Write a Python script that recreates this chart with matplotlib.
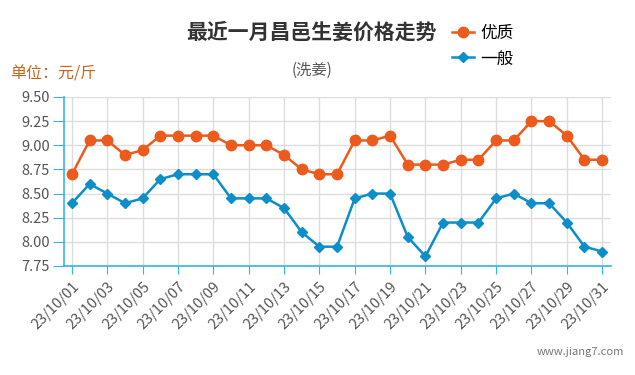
import matplotlib
matplotlib.use("Agg")
import matplotlib.pyplot as plt
import numpy as np

plt.rcParams['font.family'] = ['Noto Sans CJK SC', 'DejaVu Sans']

dates = [f"23/10/{d:02d}" for d in range(1, 32)]
premium = [8.70, 9.05, 9.05, 8.90, 8.95, 9.10, 9.10, 9.10, 9.10, 9.00, 9.00, 9.00, 8.90, 8.75, 8.70, 8.70,
           9.05, 9.05, 9.10, 8.80, 8.80, 8.80, 8.85, 8.85, 9.05, 9.05, 9.25, 9.25, 9.10, 8.85, 8.85]
normal = [8.40, 8.60, 8.50, 8.40, 8.45, 8.65, 8.70, 8.70, 8.70, 8.45, 8.45, 8.45, 8.35, 8.10, 7.95, 7.95,
          8.45, 8.50, 8.50, 8.05, 7.85, 8.20, 8.20, 8.20, 8.45, 8.50, 8.40, 8.40, 8.20, 7.95, 7.90]
y_ticks = [7.75, 8.00, 8.25, 8.50, 8.75, 9.00, 9.25, 9.50]

ORANGE = "#ec5a1c"
BLUE = "#0c8ec8"
AXIS = "#33b5e5"

fig = plt.figure(figsize=(6.35, 3.75), dpi=100)
ax = fig.add_axes([64/635, 1 - 266/375, (611 - 64)/635, (266 - 97)/375])

x = np.arange(len(dates))
ax.plot(x, premium, color=ORANGE, lw=1.8, marker="o", ms=7.5, label="优质", zorder=3)
ax.plot(x, normal, color=BLUE, lw=1.8, marker="D", ms=5.5, label="一般", zorder=3)

ax.set_xlim(-0.45, 30.5)
ax.set_ylim(7.75, 9.5)
ax.set_yticks(y_ticks)
ax.set_yticklabels([f"{v:.2f}" for v in y_ticks], fontsize=10.5, color="#555555")
ax.set_xticks(x[::2])
ax.set_xticklabels(dates[::2], rotation=45, ha="right", rotation_mode="anchor",
                   fontsize=10.5, color="#555555")
ax.tick_params(axis="x", length=6, color=AXIS, pad=4)
ax.tick_params(axis="y", length=8, color=AXIS, pad=2)
ax.grid(True, color="#dddddd", lw=1)
ax.set_axisbelow(True)
for side in ["top", "right"]:
    ax.spines[side].set_visible(False)
for side in ["left", "bottom"]:
    ax.spines[side].set_color(AXIS)
    ax.spines[side].set_linewidth(1.2)

fig.text(311/635, 1 - 32/375, "最近一月昌邑生姜价格走势", ha="center", va="center",
         fontsize=15, fontweight="bold", color="#333333")
fig.text(312/635, 1 - 70/375, "(洗姜)", ha="center", va="center", fontsize=11, color="#555555")
fig.text(10/635, 1 - 74/375, "单位：元/斤", ha="left", va="center", fontsize=11.5, color="#c8641e")
fig.text(624/635, 1 - 352/375, "www.jiang7.com", ha="right", va="center", fontsize=8, color="#777777")

leg = fig.legend(loc="upper left", bbox_to_anchor=(452/635, 1 - 25/375), frameon=False,
                 fontsize=12, handlelength=1.3, handletextpad=0.4, labelspacing=0.5,
                 borderaxespad=0, borderpad=0)

fig.savefig("out.png", dpi=100)
